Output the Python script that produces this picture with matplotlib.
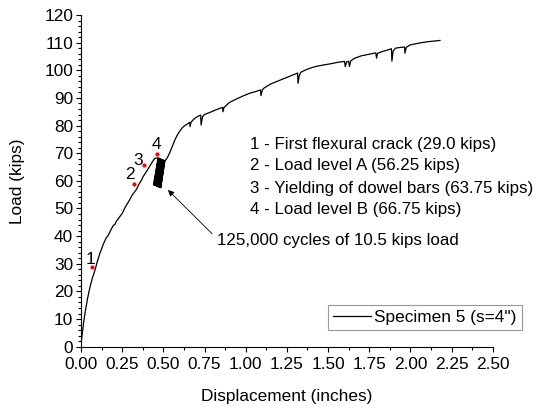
import matplotlib
matplotlib.use("Agg")
import matplotlib.pyplot as plt
from matplotlib.ticker import MultipleLocator

plt.rcParams['font.family'] = ['Liberation Sans', 'DejaVu Sans']

# main curve before the cyclic loading
pre_x = [0.000, 0.003, 0.012, 0.024, 0.040, 0.055, 0.070, 0.085, 0.100, 0.115, 0.135, 0.150, 0.156,
         0.165, 0.175, 0.186, 0.195, 0.205, 0.216, 0.237, 0.250, 0.267, 0.280, 0.297, 0.310, 0.325,
         0.338, 0.350, 0.365, 0.378, 0.400, 0.420, 0.439, 0.449, 0.470, 0.485]
pre_y = [0.0, 2.4, 7.0, 12.1, 17.5, 21.7, 25.0, 27.7, 31.0, 33.8, 37.0, 39.0, 39.6,
         40.2, 41.5, 42.8, 43.8, 44.2, 45.5, 47.2, 48.2, 50.3, 51.6, 53.3, 54.8, 56.0,
         57.0, 58.6, 60.0, 61.6, 63.6, 65.6, 67.4, 68.2, 68.3, 67.9]

# 125,000 cycles of 10.5 kips load (peaks and valleys)
cyc_peak_x = [0.468, 0.472, 0.476, 0.480, 0.483, 0.486, 0.489, 0.492, 0.495, 0.498, 0.501, 0.504, 0.507, 0.510]
cyc_peak_y = [68.0, 67.9, 67.9, 67.8, 67.8, 67.7, 67.7, 67.6, 67.6, 67.5, 67.5, 67.4, 67.4, 67.3]
cyc_valley_x = [0.440, 0.444, 0.448, 0.452, 0.456, 0.460, 0.464, 0.467, 0.470, 0.473, 0.476, 0.479, 0.482, 0.484]
cyc_valley_y = [58.6, 58.5, 58.4, 58.3, 58.2, 58.1, 58.0, 57.9, 57.8, 57.8, 57.7, 57.6, 57.6, 57.5]

# main curve after the cyclic loading
post_x = [0.512, 0.525, 0.540, 0.555, 0.570, 0.585, 0.600, 0.615, 0.630, 0.645, 0.655, 0.660, 0.662,
          0.668, 0.680, 0.690, 0.700, 0.715, 0.727, 0.729, 0.738, 0.750, 0.780, 0.820, 0.855, 0.860,
          0.862, 0.868, 0.900, 0.940, 0.980, 1.020, 1.060, 1.090, 1.093, 1.100, 1.110, 1.150, 1.200,
          1.250, 1.300, 1.315, 1.318, 1.325, 1.335, 1.370, 1.420, 1.470, 1.520, 1.560, 1.600, 1.605,
          1.612, 1.625, 1.630, 1.638, 1.660, 1.700, 1.750, 1.790, 1.795, 1.800, 1.830, 1.860, 1.885,
          1.888, 1.895, 1.910, 1.940, 1.965, 1.967, 1.975, 2.000, 2.050, 2.100, 2.150, 2.180]
post_y = [67.3, 68.5, 70.3, 72.5, 74.8, 76.6, 78.0, 79.2, 80.0, 80.5, 81.0, 81.2, 79.6,
          81.2, 82.0, 82.5, 83.0, 83.5, 83.8, 80.2, 83.2, 84.0, 84.7, 85.7, 86.5, 86.6,
          85.0, 86.5, 88.3, 89.5, 90.6, 91.6, 92.3, 92.9, 90.8, 92.8, 93.5, 95.0, 96.2,
          97.4, 98.6, 99.0, 95.3, 98.0, 99.3, 100.3, 101.3, 101.9, 102.4, 102.9, 103.2, 101.3,
          103.0, 103.3, 101.4, 103.4, 104.3, 105.2, 105.8, 106.3, 104.4, 106.1, 106.8, 107.3, 107.8,
          103.3, 106.9, 108.0, 108.3, 108.4, 106.2, 108.3, 109.2, 109.8, 110.3, 110.6, 110.8]

# marked events
event_x = [0.065, 0.320, 0.384, 0.463]
event_y = [28.7, 58.8, 65.6, 69.6]
event_labels = ["1", "2", "3", "4"]
event_label_x = [0.059, 0.297, 0.344, 0.459]
event_label_y = [31.6, 62.3, 67.4, 73.2]

notes = ["1 - First flexural crack (29.0 kips)",
         "2 - Load level A (56.25 kips)",
         "3 - Yielding of dowel bars (63.75 kips)",
         "4 - Load level B (66.75 kips)"]
note_y = [73.0, 65.4, 57.4, 49.8]

x_ticks = [0.00, 0.25, 0.50, 0.75, 1.00, 1.25, 1.50, 1.75, 2.00, 2.25, 2.50]
y_ticks = list(range(0, 121, 10))

FS = 12.4
FS_NOTE = 12.2

# assemble the full path
cyc_x, cyc_y = [], []
for px, py, vx, vy in zip(cyc_peak_x, cyc_peak_y, cyc_valley_x, cyc_valley_y):
    cyc_x += [vx, px]
    cyc_y += [vy, py]
all_x = pre_x + cyc_x + post_x
all_y = pre_y + cyc_y + post_y

fig = plt.figure(figsize=(5.36, 4.08), dpi=100)
ax = fig.add_axes([81/536, 1-346.7/408, (492.7-81)/536, (346.7-15)/408])

ax.plot(all_x, all_y, color='black', lw=0.9, label='Specimen 5 (s=4")')
ax.scatter(event_x, event_y, s=9, color='red', zorder=3, linewidths=0)
for lx, ly, t in zip(event_label_x, event_label_y, event_labels):
    ax.text(lx, ly, t, fontsize=FS, ha='center', va='center')

for t, yy in zip(notes, note_y):
    ax.text(1.025, yy, t, fontsize=FS_NOTE, ha='left', va='center', clip_on=False)

ax.annotate("125,000 cycles of 10.5 kips load", xy=(0.528, 56.7), xytext=(0.825, 38.6),
            fontsize=FS_NOTE, ha='left', va='center',
            arrowprops=dict(arrowstyle='-|>', color='black', lw=0.6,
                            shrinkA=2, shrinkB=0, mutation_scale=9,
                            relpos=(0.0, 0.6)))

ax.set_xlim(0, 2.5)
ax.set_ylim(0, 120)
ax.set_xticks(x_ticks)
ax.set_xticklabels([f"{v:.2f}" for v in x_ticks])
ax.set_yticks(y_ticks)
ax.xaxis.set_minor_locator(MultipleLocator(0.125))
ax.yaxis.set_minor_locator(MultipleLocator(2))
ax.tick_params(which='major', direction='out', length=3.6, width=0.8, labelsize=FS)
ax.tick_params(which='minor', direction='out', length=2.2, width=0.8)
ax.tick_params(axis='x', which='major', pad=4)
ax.tick_params(axis='y', which='major', pad=2)
for s in ['top', 'right']:
    ax.spines[s].set_visible(False)

ax.set_xlabel("Displacement (inches)", fontsize=FS, labelpad=12)
ax.set_ylabel("Load (kips)", fontsize=FS, labelpad=14)

leg = ax.legend(loc='lower right', bbox_to_anchor=(522/536, 1-330/408), bbox_transform=fig.transFigure,
                borderaxespad=0, fancybox=False, edgecolor='#999999', framealpha=1,
                fontsize=FS, handlelength=2.2, handletextpad=0.2, borderpad=0.3)
leg.get_frame().set_linewidth(0.8)

fig.savefig("out.png", dpi=100)
